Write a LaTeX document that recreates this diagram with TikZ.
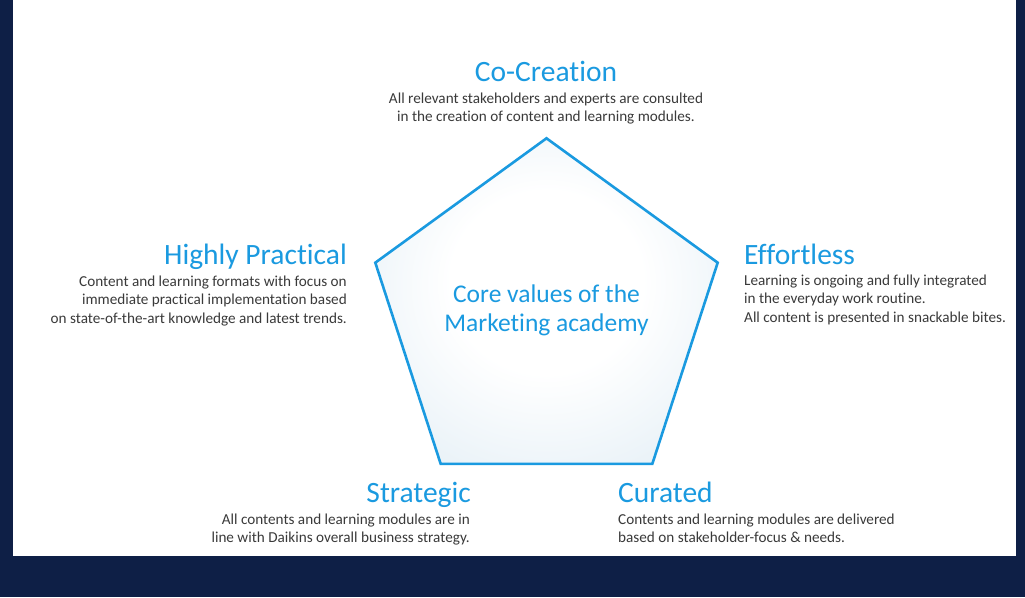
\documentclass[tikz,border=0pt]{standalone}
\usepackage{fontspec}
\setmainfont{Carlito}[RawFeature=-liga]
\usetikzlibrary{shapes.geometric}

\definecolor{navy}{RGB}{14,31,70}
\definecolor{valueblue}{RGB}{26,154,224}
\definecolor{bodygrey}{RGB}{58,58,58}
\definecolor{pentedge}{RGB}{208,227,239}

% soft white centre fading into a pale blue towards the pentagon edges
\pgfdeclareradialshading{corefill}{\pgfpoint{0bp}{4bp}}{%
  color(0bp)=(white); color(14bp)=(white); color(50bp)=(pentedge)}

\tikzset{
  valuetitle/.style={inner sep=0pt, text=valueblue, font=\fontsize{29.5}{32}\selectfont},
  valuebody/.style={inner sep=0pt, text=bodygrey, font=\fontsize{15.2}{18.4}\selectfont},
  corebox/.style={regular polygon, regular polygon sides=5, minimum size=360pt,
    inner sep=0pt, draw=valueblue, line width=2.6pt, line join=miter,
    shading=corefill}
}

\begin{document}
\begin{tikzpicture}[x=1pt,y=-1pt]
  \useasboundingbox (0,0) rectangle (1025,597);
  % page background and white panel
  \fill[navy] (0,0) rectangle (1025,597);
  \fill[white] (13,0) rectangle (1016,556);

  % central pentagon (multi-line nodes are anchored on their last baseline)
  \node[corebox] (core) at (546.5,318.3) {};
  \node[inner sep=0pt, text=valueblue, align=center, anchor=base,
        font=\fontsize{25.5}{29}\selectfont] (coretxt) at (546.5,331)
        {Core values of the\\Marketing academy};

  % top: Co-Creation
  \node[valuetitle, anchor=base] (cocreation) at (546,81) {Co-Creation};
  \node[valuebody, anchor=base, align=center] (cocreationtxt) at (546,121.9)
    {All relevant stakeholders and experts are consulted\\in the creation of content and learning modules.};

  % left: Highly Practical
  \node[valuetitle, anchor=base east] (practical) at (347,264.5) {Highly Practical};
  \node[valuebody, anchor=base east, align=right] (practicaltxt) at (347,323.3)
    {Content and learning formats with focus on\\immediate practical implementation based\\on state-of-the-art knowledge and latest trends.};

  % right: Effortless
  \node[valuetitle, anchor=base west] (effortless) at (744,264.5) {Effortless};
  \node[valuebody, anchor=base west, align=left] (effortlesstxt) at (744,322.3)
    {Learning is ongoing and fully integrated\\in the everyday work routine.\\All content is presented in snackable bites.};

  % bottom left: Strategic
  \node[valuetitle, anchor=base east] (strategic) at (471,502.5) {Strategic};
  \node[valuebody, anchor=base east, align=right] (strategictxt) at (470,542.9)
    {All contents and learning modules are in\\line with Daikins overall business strategy.};

  % bottom right: Curated
  \node[valuetitle, anchor=base west] (curated) at (618,502.5) {Curated};
  \node[valuebody, anchor=base west, align=left] (curatedtxt) at (618,542.9)
    {Contents and learning modules are delivered\\based on stakeholder-focus \& needs.};
\end{tikzpicture}
\end{document}
